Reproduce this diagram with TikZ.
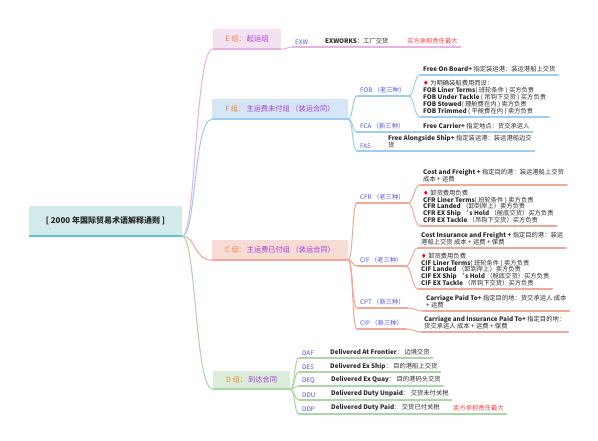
\documentclass[tikz,border=0pt]{standalone}
\usepackage{fontspec}
\setmainfont{Noto Sans CJK SC}
\newfontfamily\djv{DejaVu Sans}
\definecolor{rootfill}{HTML}{D3E9EA}
\definecolor{rootline}{HTML}{5CC8C0}
\definecolor{efill}{HTML}{F4E1F2}
\definecolor{eline}{HTML}{E6B3E3}
\definecolor{ffill}{HTML}{D5E7F7}
\definecolor{fline}{HTML}{9FCDF2}
\definecolor{cfill}{HTML}{F7DCD6}
\definecolor{cline}{HTML}{F2AA98}
\definecolor{dfill}{HTML}{DBECDA}
\definecolor{dline}{HTML}{A9D8A6}
\definecolor{codec}{HTML}{5252F0}
\definecolor{grpl}{HTML}{F0872F}
\definecolor{grpn}{HTML}{A83BD8}
\definecolor{txt}{HTML}{2A2A2A}
\definecolor{redt}{HTML}{FF3B3B}
\newcommand{\dia}{\textcolor{red}{\djv ♦}}
\newcommand{\bq}{\symbol{96}}
\begin{document}
\begin{tikzpicture}[x=1pt,y=-1pt,
  grp/.style={minimum height=20pt, inner sep=0pt, font=\fontsize{7.2}{8}\selectfont},
  leaf/.style={anchor=south west, inner xsep=3pt, inner ysep=2.5pt, text=txt,
     font=\fontsize{6.3}{6.9}\selectfont, align=left},
  code/.style={leaf, text=codec},
  conn/.style={line width=1.05pt, line cap=round},
  boxline/.style={line width=1.8pt}]
\path[use as bounding box] (0,0) rectangle (598,440);

% root
\node[fill=rootfill, minimum width=153pt, minimum height=30pt, inner sep=0pt, text=txt,
  font=\fontsize{8}{9}\selectfont\bfseries] (root) at (105.5,221) {[ 2000 年国际贸易术语解释通则 ]};

% group boxes
\node[grp, fill=efill, minimum width=68pt] (E) at (247,39) {\textcolor{grpl}{E 组：}\,\textcolor{grpn}{起运组}};
\node[grp, fill=ffill, minimum width=136pt] (F) at (280,109) {\textcolor{grpl}{F 组：}\,\textcolor{grpn}{主运费未付组 （装运合同）}};
\node[grp, fill=cfill, minimum width=136pt] (C) at (280,250) {\textcolor{grpl}{C 组：}\,\textcolor{grpn}{主运费已付组 （装运合同）}};
\node[grp, fill=dfill, minimum width=77pt, minimum height=18pt] (D) at (251.5,380) {\textcolor{grpl}{D 组：}\,\textcolor{grpn}{到达合同}};

% root connectors
\draw[conn, eline] (root.south east) .. controls +(14,0) and +(-18,0) .. (E.south west);
\draw[conn, fline] (root.south east) .. controls +(14,0) and +(-18,0) .. (F.south west);
\draw[conn, cline] (root.south east) .. controls +(14,0) and +(-18,0) .. (C.south west);
\draw[conn, dline] (root.south east) .. controls +(14,0) and +(-18,0) .. (D.south west);
\draw[boxline, rootline] (root.south west) -- (root.south east);
\draw[boxline, eline] (E.south west) -- (E.south east);
\draw[boxline, fline] (F.south west) -- (F.south east);
\draw[boxline, cline] (C.south west) -- (C.south east);
\draw[boxline, dline] (D.south west) -- (D.south east);

% E branch
\node[code] (exw) at (292,47) {EXW};
\node[leaf] (exw1) at (322,47) {\textbf{EXWORKS}：工厂交货};
\node[leaf, text=redt] (exwr) at (404,47) {买方承担责任最大};
\draw[conn, eline] (E.south east) .. controls +(5,0) and +(-5,0) .. (exw.south west);
\draw[conn, eline] (exw.south west) -- (exw.south east) -- (exw1.south west) -- (exw1.south east) -- (exwr.south west) -- (exwr.south east);

% F branch
\node[code] (fob) at (357,96) {FOB （老三种）};
\node[code] (fca) at (357,132) {FCA （新三种）};
\node[code] (fas) at (357,151) {FAS};
\node[leaf] (fob1) at (420,75) {\textbf{Free On Board+} 指定装运港：装运港船上交货};
\node[leaf] (fob2) at (420,117) {\dia\ 为明确装船费用而设：\\
  \textbf{FOB Liner Terms}( 班轮条件 ) 买方负责\\
  \textbf{FOB Under Tackle} ( 吊钩下交货 ) 买方负责\\
  \textbf{FOB Stowed}( 理舱费在内 ) 卖方负责\\
  \textbf{FOB Trimmed} ( 平舱费在内 ) 卖方负责};
\node[leaf] (fca1) at (420,132) {\textbf{Free Carrier+} 指定地点：货交承运人};
\node[leaf] (fas1) at (385,151) {\textbf{Free Alongside Ship+} 指定装运港：装运港船边交\\货};
\foreach \n in {fob,fca,fas}
  \draw[conn, fline] (F.south east) .. controls +(5,0) and +(-5,0) .. (\n.south west);
\foreach \n in {fob1,fob2}
  \draw[conn, fline] (fob.south east) .. controls +(6,0) and +(-6,0) .. (\n.south west);
\draw[conn, fline] (fca.south east) -- (fca1.south west);
\draw[conn, fline] (fas.south east) -- (fas1.south west);
\foreach \n in {fob,fca,fas,fob1,fob2,fca1,fas1}
  \draw[conn, fline] (\n.south west) -- (\n.south east);

% C branch
\node[code] (cfr) at (357,203) {CFR （老三种）};
\node[code] (cif) at (357,266) {CIF （老三种）};
\node[code] (cpt) at (357,308) {CPT （新三种）};
\node[code] (cip) at (357,329) {CIP （新三种）};
\node[leaf] (cfr1) at (420,185) {\textbf{Cost and Freight +} 指定目的港：装运港船上交货\\成本 + 运费};
\node[leaf] (cfr2) at (420,226) {\dia\ 卸货费用负费\\
  \textbf{CFR Liner Terms}( 班轮条件 ) 卖方负责\\
  \textbf{CFR Landed} （卸到岸上）卖方负责\\
  \textbf{CFR EX Ship\,\bq\,s Hold} （舱底交货）买方负责\\
  \textbf{CFR EX Tackle} （吊钩下交货）买方负责};
\node[leaf] (cif1) at (418,248) {\textbf{Cost Insurance and Freight +} 指定目的港：装运\\港船上交货 成本 + 运费 + 保费};
\node[leaf] (cif2) at (418,289) {\dia\ 卸货费用负费\\
  \textbf{CIF Liner Terms}( 班轮条件 ) 卖方负责\\
  \textbf{CIF Landed} （卸到岸上）卖方负责\\
  \textbf{CIF EX Ship\,\bq\,s Hold} （舱底交货）买方负责\\
  \textbf{CIF EX Tackle} （吊钩下交货）买方负责};
\node[leaf] (cpt1) at (423,311) {\textbf{Carriage Paid To+} 指定目的地：货交承运人 成本\\+ 运费};
\node[leaf] (cip1) at (421,332) {\textbf{Carriage and Insurance Paid To+} 指定目的地：\\货交承运人 成本 + 运费 + 保费};
\foreach \n in {cfr,cif,cpt,cip}
  \draw[conn, cline] (C.south east) .. controls +(5,0) and +(-5,0) .. (\n.south west);
\foreach \n in {cfr1,cfr2}
  \draw[conn, cline] (cfr.south east) .. controls +(6,0) and +(-6,0) .. (\n.south west);
\foreach \n in {cif1,cif2}
  \draw[conn, cline] (cif.south east) .. controls +(6,0) and +(-6,0) .. (\n.south west);
\draw[conn, cline] (cpt.south east) .. controls +(6,0) and +(-6,0) .. (cpt1.south west);
\draw[conn, cline] (cip.south east) .. controls +(6,0) and +(-6,0) .. (cip1.south west);
\foreach \n in {cfr,cif,cpt,cip,cfr1,cfr2,cif1,cif2,cpt1,cip1}
  \draw[conn, cline] (\n.south west) -- (\n.south east);

% D branch
\node[code] (daf) at (299,358) {DAF};
\node[code] (des) at (299,372) {DES};
\node[code] (deq) at (299,386) {DEQ};
\node[code] (ddu) at (299,400) {DDU};
\node[code] (ddp) at (299,414) {DDP};
\node[leaf] (daf1) at (327,358) {\textbf{Delivered At Frontier}： 边境交货};
\node[leaf] (des1) at (327,372) {\textbf{Delivered Ex Ship}： 目的港船上交货};
\node[leaf] (deq1) at (328,386) {\textbf{Delivered Ex Quay}： 目的港码头交货};
\node[leaf] (ddu1) at (328,400) {\textbf{Delivered Duty Unpaid}： 交货未付关税};
\node[leaf] (ddp1) at (328,414) {\textbf{Delivered Duty Paid}： 交货已付关税};
\node[leaf, text=redt] (ddpr) at (450,414) {卖方承担责任最大};
\foreach \n in {daf,des,deq,ddu,ddp}
  \draw[conn, dline] (D.south east) .. controls +(5,0) and +(-5,0) .. (\n.south west);
\foreach \a/\b in {daf/daf1,des/des1,deq/deq1,ddu/ddu1,ddp/ddp1,ddp1/ddpr}
  \draw[conn, dline] (\a.south east) -- (\b.south west);
\foreach \n in {daf,des,deq,ddu,ddp,daf1,des1,deq1,ddu1,ddp1,ddpr}
  \draw[conn, dline] (\n.south west) -- (\n.south east);
\end{tikzpicture}
\end{document}
